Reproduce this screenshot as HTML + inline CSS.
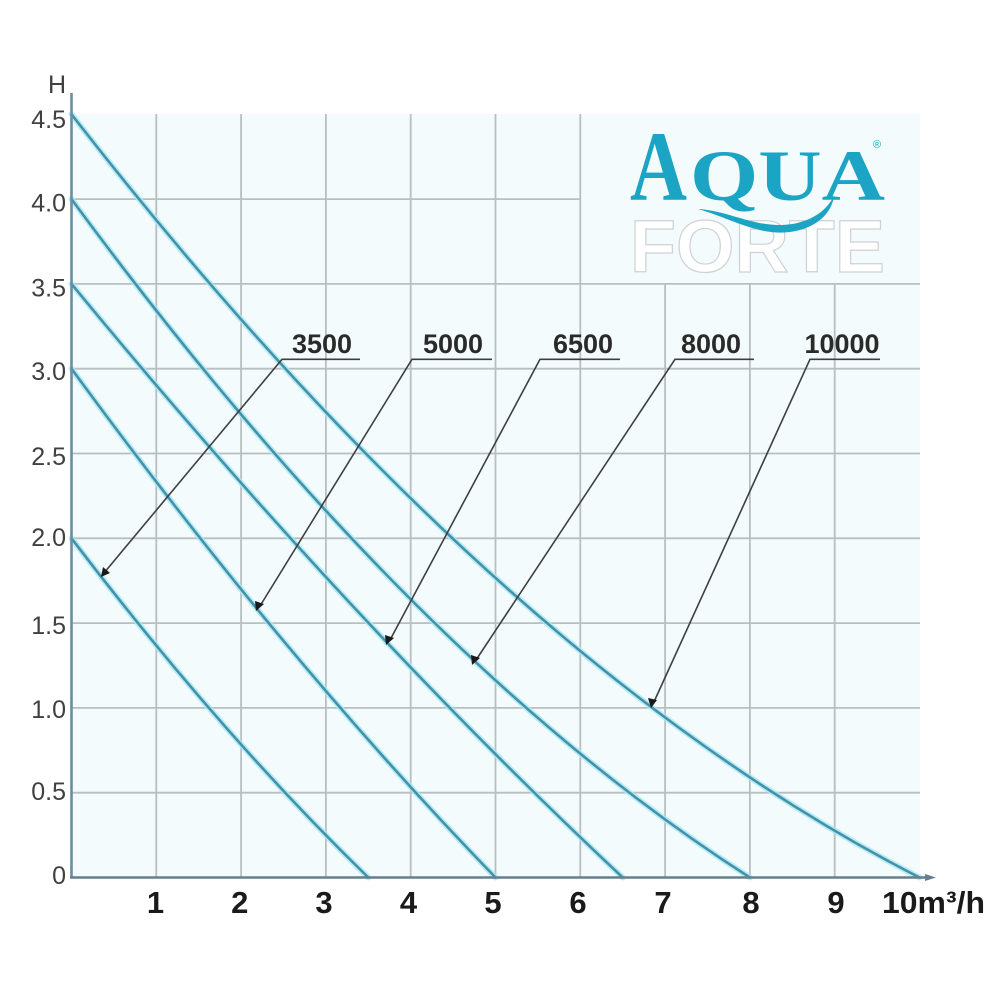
<!DOCTYPE html>
<html>
<head>
<meta charset="utf-8">
<style>
  html, body { margin: 0; padding: 0; background: #ffffff; }
  svg { display: block; }
</style>
</head>
<body>
<svg width="1000" height="1000" viewBox="0 0 1000 1000" xmlns="http://www.w3.org/2000/svg">
  <rect x="0" y="0" width="1000" height="1000" fill="#ffffff"/>
  <!-- plot background -->
  <rect x="72" y="114" width="848" height="764" fill="#f3fbfd"/>

  <!-- grid -->
  <g stroke="#b9bec1" stroke-width="1.8" fill="none">
    <line x1="156.3" y1="114" x2="156.3" y2="877"/>
    <line x1="241.1" y1="114" x2="241.1" y2="877"/>
    <line x1="325.9" y1="114" x2="325.9" y2="877"/>
    <line x1="410.7" y1="114" x2="410.7" y2="877"/>
    <line x1="495.5" y1="114" x2="495.5" y2="877"/>
    <line x1="580.3" y1="114" x2="580.3" y2="877"/>
    <line x1="665.1" y1="284" x2="665.1" y2="877"/>
    <line x1="749.9" y1="284" x2="749.9" y2="877"/>
    <line x1="834.7" y1="284" x2="834.7" y2="877"/>
    <line x1="72" y1="792.7" x2="920" y2="792.7"/>
    <line x1="72" y1="707.9" x2="920" y2="707.9"/>
    <line x1="72" y1="623.1" x2="920" y2="623.1"/>
    <line x1="72" y1="538.3" x2="920" y2="538.3"/>
    <line x1="72" y1="453.5" x2="920" y2="453.5"/>
    <line x1="72" y1="368.7" x2="920" y2="368.7"/>
    <line x1="72" y1="283.9" x2="920" y2="283.9"/>
    <line x1="72" y1="199.1" x2="580.3" y2="199.1"/>
  </g>

  <!-- curves: glow -->
  <g fill="none" stroke="#a6e9f6" stroke-width="6" stroke-opacity="0.8" stroke-linecap="round">
    <path d="M71.5,538.3 Q219.9,733.3 368.3,877.5"/>
    <path d="M71.5,368.7 Q283.5,658.7 495.5,877.5"/>
    <path d="M71.5,283.9 Q347.1,619.3 622.7,877.5"/>
    <path d="M71.5,199.1 Q410.7,660.4 749.9,877.5"/>
    <path d="M71.5,114.3 Q495.5,660.0 919.5,877.5"/>
  </g>
  <!-- curves: core -->
  <g fill="none" stroke="#4592a7" stroke-width="2.6" stroke-linecap="round">
    <path d="M71.5,538.3 Q219.9,733.3 368.3,877.5"/>
    <path d="M71.5,368.7 Q283.5,658.7 495.5,877.5"/>
    <path d="M71.5,283.9 Q347.1,619.3 622.7,877.5"/>
    <path d="M71.5,199.1 Q410.7,660.4 749.9,877.5"/>
    <path d="M71.5,114.3 Q495.5,660.0 919.5,877.5"/>
  </g>

  <!-- axes -->
  <line x1="71.5" y1="93" x2="71.5" y2="878" stroke="#6a8ea2" stroke-width="2.6"/>
  <line x1="70" y1="877.5" x2="928" y2="877.5" stroke="#667f8c" stroke-width="2.6"/>
  <polygon points="936,877.5 925,874 925,881" fill="#667f8c"/>

  <!-- y labels -->
  <g font-family="Liberation Sans, sans-serif" font-size="25" fill="#404040" text-anchor="end">
    <text x="66" y="93">H</text>
    <text x="66" y="128">4.5</text>
    <text x="66" y="211.5">4.0</text>
    <text x="66" y="296.5">3.5</text>
    <text x="66" y="380">3.0</text>
    <text x="66" y="465">2.5</text>
    <text x="66" y="546">2.0</text>
    <text x="66" y="634">1.5</text>
    <text x="66" y="718">1.0</text>
    <text x="66" y="800">0.5</text>
    <text x="66" y="884">0</text>
  </g>

  <!-- x labels -->
  <g font-family="Liberation Sans, sans-serif" font-size="31" font-weight="bold" fill="#1a1a1a" text-anchor="middle">
    <text x="155.5" y="913">1</text>
    <text x="239.8" y="913">2</text>
    <text x="324" y="913">3</text>
    <text x="408.5" y="913">4</text>
    <text x="493" y="913">5</text>
    <text x="578" y="913">6</text>
    <text x="663" y="913">7</text>
    <text x="751" y="913">8</text>
    <text x="836" y="913">9</text>
  </g>
  <text x="882" y="913" font-family="Liberation Sans, sans-serif" font-size="31" font-weight="bold" fill="#1a1a1a" textLength="103" lengthAdjust="spacingAndGlyphs">10m³/h</text>

  <!-- series labels -->
  <g font-family="Liberation Sans, sans-serif" font-size="27" font-weight="bold" fill="#2a2a2a" text-anchor="middle">
    <text x="322" y="353">3500</text>
    <text x="453" y="353">5000</text>
    <text x="583" y="353">6500</text>
    <text x="711" y="353">8000</text>
    <text x="842" y="353">10000</text>
  </g>
  <!-- underlines + leaders -->
  <g stroke="#3f3f3f" stroke-width="1.6" fill="none">
    <polyline points="360,359.3 282,359.3 104,573"/>
    <polyline points="492,359.3 412,359.3 260,606"/>
    <polyline points="620,359.3 540,359.3 390,640"/>
    <polyline points="754,359.3 675,359.3 476,660"/>
    <polyline points="880,359.3 810,359.3 653,704"/>
  </g>
  <!-- arrow heads -->
  <g fill="#1a1a1a">
    <polygon points="101,577 103,567 110,573"/>
    <polygon points="256,611 255,601 264,604"/>
    <polygon points="386,645 385,635 394,638"/>
    <polygon points="472,665 471,655 480,658"/>
    <polygon points="651,708 648,698 657,700"/>
  </g>

  <!-- logo -->
  <text x="630" y="272" font-family="Liberation Sans, sans-serif" font-size="74" font-weight="bold" fill="#ffffff" stroke="#cfd2d4" stroke-width="1.2" textLength="255" lengthAdjust="spacingAndGlyphs">FORTE</text>
  <g font-family="Liberation Serif, serif" fill="#1ba4c3" font-weight="bold">
    <text x="630" y="200" font-size="100" textLength="57" lengthAdjust="spacingAndGlyphs">A</text>
    <text x="690" y="200" font-size="72" textLength="195" lengthAdjust="spacingAndGlyphs">QUA</text>
  </g>
  <text x="873" y="148" font-size="11" font-family="Liberation Sans, sans-serif" fill="#1ba4c3">®</text>
  <path d="M698,209 C725,210 752,226 782,225 C808,224 826,212 834,196 C832,212 818,228 790,232 C758,236 730,218 698,209 Z" fill="#1ba4c3"/>
</svg>
</body>
</html>
